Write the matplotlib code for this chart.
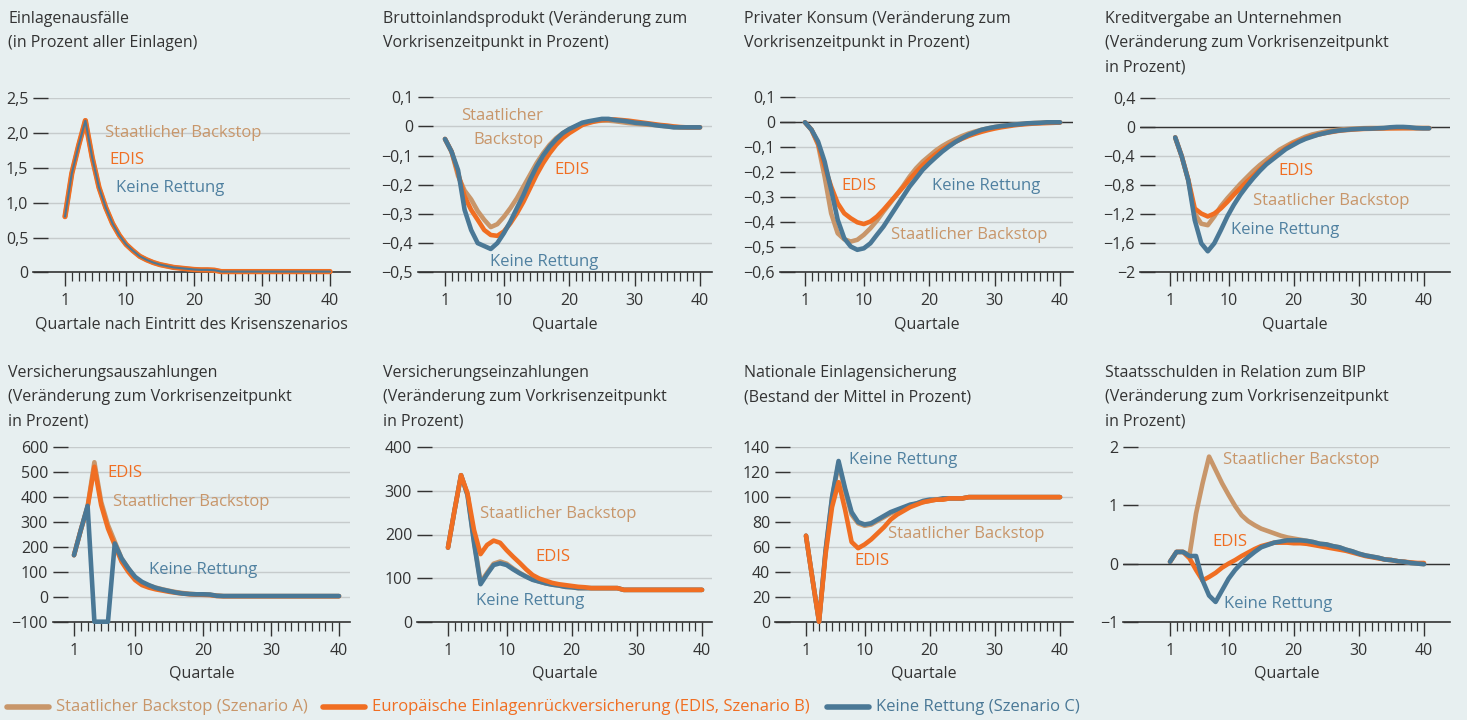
import numpy as np
import matplotlib.pyplot as plt
from matplotlib.lines import Line2D

W, H = 1467, 720
BG = '#e7eff0'
TAN = '#c8966a'
ORANGE = '#f06e22'
BLUE = '#4a7896'
BLUE_TXT = '#4f80a0'
DARK = '#333333'
GRID = '#c6cbcc'

plt.rcParams['font.family'] = ['Open Sans', 'DejaVu Sans']

quarters = np.arange(1, 41)

# --- data ---
# 1 Einlagenausfaelle: all three scenarios coincide
ausfall = [0.80, 1.42, 1.82, 2.18, 1.65, 1.22, 0.93, 0.70, 0.53, 0.40,
           0.31, 0.23, 0.18, 0.14, 0.11, 0.09, 0.07, 0.06, 0.05, 0.04,
           0.035, 0.035, 0.03, 0.01, 0.01, 0.01, 0.01, 0.01, 0.01, 0.01,
           0.01, 0.01, 0.01, 0.01, 0.01, 0.01, 0.01, 0.01, 0.01, 0.01]

# 2 BIP
bip_a = [-0.043, -0.086, -0.17, -0.22, -0.25, -0.29, -0.32, -0.345, -0.335, -0.31,
         -0.28, -0.246, -0.206, -0.166, -0.126, -0.092, -0.063, -0.04, -0.023, -0.01,
         0.0, 0.01, 0.015, 0.018, 0.02, 0.02, 0.018, 0.015, 0.012, 0.01,
         0.008, 0.006, 0.005, 0.003, 0.0, -0.002, -0.003, -0.003, -0.003, -0.003]
bip_b = [-0.043, -0.086, -0.16, -0.24, -0.286, -0.32, -0.355, -0.372, -0.375, -0.36,
         -0.332, -0.298, -0.258, -0.212, -0.166, -0.126, -0.092, -0.063, -0.04, -0.023,
         -0.009, 0.005, 0.012, 0.018, 0.022, 0.024, 0.024, 0.022, 0.02, 0.017,
         0.014, 0.011, 0.008, 0.005, 0.003, 0.0, -0.002, -0.003, -0.003, -0.003]
bip_c = [-0.043, -0.086, -0.15, -0.286, -0.355, -0.40, -0.41, -0.42, -0.40, -0.366,
         -0.326, -0.28, -0.235, -0.183, -0.138, -0.10, -0.069, -0.044, -0.023, -0.009,
         0.002, 0.013, 0.018, 0.022, 0.026, 0.026, 0.022, 0.02, 0.017, 0.013,
         0.011, 0.009, 0.005, 0.002, 0.0, -0.003, -0.003, -0.003, -0.003, -0.003]

# 3 Privater Konsum
konsum_a = [0.0, -0.03, -0.09, -0.217, -0.364, -0.444, -0.468, -0.477, -0.47, -0.45,
            -0.424, -0.393, -0.357, -0.324, -0.29, -0.255, -0.217, -0.184, -0.157, -0.135,
            -0.113, -0.095, -0.08, -0.067, -0.055, -0.045, -0.037, -0.03, -0.024, -0.019,
            -0.015, -0.012, -0.009, -0.007, -0.005, -0.003, -0.002, -0.001, 0.0, 0.0]
konsum_b = [0.0, -0.03, -0.085, -0.177, -0.257, -0.324, -0.364, -0.384, -0.40, -0.407,
            -0.397, -0.377, -0.35, -0.32, -0.29, -0.26, -0.228, -0.199, -0.172, -0.148,
            -0.127, -0.108, -0.092, -0.078, -0.066, -0.055, -0.046, -0.038, -0.031, -0.025,
            -0.02, -0.016, -0.012, -0.009, -0.007, -0.005, -0.004, -0.003, -0.002, -0.001]
konsum_c = [0.0, -0.03, -0.077, -0.157, -0.27, -0.39, -0.464, -0.497, -0.51, -0.504,
            -0.484, -0.45, -0.417, -0.377, -0.337, -0.297, -0.257, -0.224, -0.19, -0.164,
            -0.14, -0.117, -0.097, -0.079, -0.064, -0.05, -0.04, -0.03, -0.024, -0.019,
            -0.015, -0.012, -0.009, -0.007, -0.004, -0.003, -0.002, 0.0, 0.0, 0.0]

# 4 Kreditvergabe
kredit_a = [-0.14, -0.40, -0.73, -1.19, -1.33, -1.35, -1.23, -1.09, -0.98, -0.88,
            -0.78, -0.69, -0.60, -0.52, -0.45, -0.38, -0.31, -0.26, -0.21, -0.17,
            -0.13, -0.10, -0.08, -0.06, -0.045, -0.035, -0.027, -0.02, -0.015, -0.012,
            -0.01, -0.01, -0.01, -0.01, -0.01, -0.01, -0.01, -0.01, -0.01, -0.01]
kredit_b = [-0.14, -0.40, -0.72, -1.12, -1.19, -1.23, -1.19, -1.12, -1.03, -0.93,
            -0.84, -0.75, -0.67, -0.58, -0.50, -0.42, -0.35, -0.29, -0.23, -0.19,
            -0.15, -0.12, -0.10, -0.08, -0.065, -0.05, -0.04, -0.033, -0.027, -0.022,
            -0.02, -0.018, -0.016, -0.014, -0.013, -0.012, -0.012, -0.012, -0.012, -0.012]
kredit_c = [-0.14, -0.40, -0.73, -1.28, -1.60, -1.71, -1.60, -1.42, -1.23, -1.07,
            -0.93, -0.81, -0.70, -0.60, -0.51, -0.44, -0.37, -0.30, -0.25, -0.20,
            -0.16, -0.13, -0.10, -0.08, -0.06, -0.046, -0.037, -0.028, -0.023, -0.018,
            -0.018, -0.014, -0.01, 0.0, 0.005, 0.005, 0.0, -0.01, -0.014, -0.014]

# 5 Versicherungsauszahlungen
auszahl_a = [167, 268, 362, 540, 381, 288, 221, 154, 114, 75,
             55, 45, 37, 30, 24, 19, 15, 12, 10, 9,
             8, 5, 3, 3, 3, 3, 3, 3, 3, 3,
             3, 3, 3, 3, 3, 3, 3, 3, 3, 3]
auszahl_b = [167, 268, 360, 522, 368, 274, 207, 141, 100, 67,
             47, 37, 30, 25, 20, 16, 13, 10, 9, 8,
             7, 3, 2, 2, 2, 2, 2, 2, 2, 2,
             2, 2, 2, 2, 2, 2, 2, 2, 2, 2]
auszahl_c = [167, 268, 365, -100, -100, -100, 214, 154, 114, 80,
             60, 47, 36, 29, 23, 17, 13, 11, 10, 10,
             9, 4, 3, 3, 3, 3, 3, 3, 3, 3,
             3, 3, 3, 3, 3, 3, 3, 3, 3, 3]

# 6 Versicherungseinzahlungen
einzahl_a = [170, 255, 336, 292, 185, 90, 112, 133, 138, 133,
             122, 112, 104, 97, 92, 88, 85, 83, 80, 79,
             77, 77, 77, 77, 77, 77, 77, 73, 73, 73,
             73, 73, 73, 73, 73, 73, 73, 73, 73, 73]
einzahl_b = [170, 255, 336, 294, 210, 155, 176, 186, 181, 164,
             149, 135, 120, 107, 99, 94, 89, 86, 84, 82,
             80, 79, 77, 77, 77, 77, 77, 73, 73, 73,
             73, 73, 73, 73, 73, 73, 73, 73, 73, 73]
einzahl_c = [170, 255, 336, 290, 180, 86, 109, 130, 134, 130,
             120, 111, 103, 96, 92, 88, 85, 83, 80, 79,
             77, 77, 77, 77, 77, 77, 77, 73, 73, 73,
             73, 73, 73, 73, 73, 73, 73, 73, 73, 73]

# 7 Nationale Einlagensicherung
sicherung_a = [69, 34, 0, 56, 99, 127, 105, 86, 79, 77,
               78, 81, 84, 87, 89, 91, 93, 95, 96, 97,
               98, 98, 99, 99, 99, 100, 100, 100, 100, 100,
               100, 100, 100, 100, 100, 100, 100, 100, 100, 100]
sicherung_b = [69, 34, 0, 54, 92, 112, 90, 64, 59, 62,
               66, 71, 76, 82, 86, 89, 92, 94, 96, 97,
               98, 98, 99, 99, 99, 100, 100, 100, 100, 100,
               100, 100, 100, 100, 100, 100, 100, 100, 100, 100]
sicherung_c = [69, 34, 0, 57, 100, 129, 107, 88, 80, 78,
               79, 82, 85, 88, 90, 92, 94, 95, 97, 98,
               98, 99, 99, 99, 99, 100, 100, 100, 100, 100,
               100, 100, 100, 100, 100, 100, 100, 100, 100, 100]

# 8 Staatsschulden
schulden_a = [0.03, 0.2, 0.2, 0.15, 0.86, 1.38, 1.84, 1.61, 1.38, 1.18,
              0.99, 0.83, 0.73, 0.66, 0.60, 0.56, 0.52, 0.48, 0.45, 0.43,
              0.41, 0.39, 0.37, 0.34, 0.33, 0.30, 0.28, 0.24, 0.21, 0.17,
              0.14, 0.12, 0.10, 0.07, 0.06, 0.04, 0.03, 0.01, 0.0, -0.01]
schulden_b = [0.03, 0.2, 0.2, 0.09, -0.11, -0.29, -0.23, -0.16, -0.07, 0.0,
              0.06, 0.13, 0.19, 0.25, 0.30, 0.33, 0.36, 0.36, 0.36, 0.35,
              0.35, 0.34, 0.32, 0.30, 0.28, 0.26, 0.24, 0.22, 0.19, 0.16,
              0.13, 0.11, 0.09, 0.07, 0.06, 0.04, 0.03, 0.02, 0.01, 0.01]
schulden_c = [0.03, 0.2, 0.2, 0.13, 0.13, -0.29, -0.55, -0.66, -0.46, -0.26,
              -0.11, 0.01, 0.11, 0.2, 0.28, 0.32, 0.36, 0.38, 0.40, 0.40,
              0.40, 0.39, 0.37, 0.34, 0.33, 0.30, 0.28, 0.24, 0.21, 0.17,
              0.14, 0.12, 0.10, 0.07, 0.06, 0.04, 0.03, 0.01, 0.0, -0.01]

titles = [
    "Einlagenausfälle\n(in Prozent aller Einlagen)",
    "Bruttoinlandsprodukt (Veränderung zum\nVorkrisenzeitpunkt in Prozent)",
    "Privater Konsum (Veränderung zum\nVorkrisenzeitpunkt in Prozent)",
    "Kreditvergabe an Unternehmen\n(Veränderung zum Vorkrisenzeitpunkt\nin Prozent)",
    "Versicherungsauszahlungen\n(Veränderung zum Vorkrisenzeitpunkt\nin Prozent)",
    "Versicherungseinzahlungen\n(Veränderung zum Vorkrisenzeitpunkt\nin Prozent)",
    "Nationale Einlagensicherung\n(Bestand der Mittel in Prozent)",
    "Staatsschulden in Relation zum BIP\n(Veränderung zum Vorkrisenzeitpunkt\nin Prozent)",
]
xlabels = ["Quartale nach Eintritt des Krisenszenarios"] + ["Quartale"] * 7

yticks = [
    [0, 0.5, 1.0, 1.5, 2.0, 2.5],
    [-0.5, -0.4, -0.3, -0.2, -0.1, 0, 0.1],
    [-0.6, -0.5, -0.4, -0.3, -0.2, -0.1, 0, 0.1],
    [-2, -1.6, -1.2, -0.8, -0.4, 0, 0.4],
    [-100, 0, 100, 200, 300, 400, 500, 600],
    [0, 100, 200, 300, 400],
    [0, 20, 40, 60, 80, 100, 120, 140],
    [-1, 0, 1, 2],
]
ytick_labels = [
    ["0", "0,5", "1,0", "1,5", "2,0", "2,5"],
    ["−0,5", "−0,4", "−0,3", "−0,2", "−0,1", "0", "0,1"],
    ["−0,6", "−0,5", "−0,4", "−0,3", "−0,2", "−0,1", "0", "0,1"],
    ["−2", "−1,6", "−1,2", "−0,8", "−0,4", "0", "0,4"],
    ["−100", "0", "100", "200", "300", "400", "500", "600"],
    ["0", "100", "200", "300", "400"],
    ["0", "20", "40", "60", "80", "100", "120", "140"],
    ["−1", "0", "1", "2"],
]

series = [
    (ausfall, ausfall, ausfall),
    (bip_a, bip_b, bip_c),
    (konsum_a, konsum_b, konsum_c),
    (kredit_a, kredit_b, kredit_c),
    (auszahl_a, auszahl_b, auszahl_c),
    (einzahl_a, einzahl_b, einzahl_c),
    (sicherung_a, sicherung_b, sicherung_c),
    (schulden_a, schulden_b, schulden_c),
]

# --- layout in pixels: left, right, x of quarter 1, x of quarter 40, top tick, bottom axis ---
geom = [
    (33, 350, 65, 330, 98.3, 272.3),
    (418, 712, 445, 700, 97.3, 272.3),
    (780, 1073, 805, 1060, 97.3, 272.3),
    (1140, 1450, 1170, 1424, 98.3, 272.3),
    (53, 350, 74, 339, 447.3, 621.7),
    (417, 712, 448, 702, 447.3, 621.7),
    (775, 1073, 806, 1060, 447.3, 621.7),
    (1123, 1450, 1170, 1424, 447.3, 621.7),
]
title_pos = [(8, 11), (383, 11), (744, 11), (1105, 11),
             (8, 365), (383, 365), (744, 365), (1105, 365)]
dark_zero = [False, False, True, True, False, False, False, True]
x_shift = [0, 0, 0, 0.8, 0, 0, 0, 0]
blue_on_top = [True, True, True, True, True, False, False, True]

# in-panel labels: (text, colour, x, y, ha)
panel_labels = [
    [("Staatlicher Backstop", TAN, 6.9, 2.0, 'left'),
     ("EDIS", ORANGE, 7.6, 1.61, 'left'),
     ("Keine Rettung", BLUE_TXT, 8.5, 1.21, 'left')],
    [("Staatlicher\nBackstop", TAN, 16.0, -0.005, 'right'),
     ("EDIS", ORANGE, 17.8, -0.149, 'left'),
     ("Keine Rettung", BLUE_TXT, 7.9, -0.465, 'left')],
    [("EDIS", ORANGE, 6.5, -0.255, 'left'),
     ("Keine Rettung", BLUE_TXT, 20.4, -0.255, 'left'),
     ("Staatlicher Backstop", TAN, 14.15, -0.451, 'left')],
    [("EDIS", ORANGE, 17.6, -0.60, 'left'),
     ("Staatlicher Backstop", TAN, 13.75, -1.02, 'left'),
     ("Keine Rettung", BLUE_TXT, 10.4, -1.42, 'left')],
    [("EDIS", ORANGE, 5.86, 497, 'left'),
     ("Staatlicher Backstop", TAN, 6.7, 380, 'left'),
     ("Keine Rettung", BLUE_TXT, 12.0, 108, 'left')],
    [("Staatlicher Backstop", TAN, 5.9, 247, 'left'),
     ("EDIS", ORANGE, 14.4, 148, 'left'),
     ("Keine Rettung", BLUE_TXT, 5.3, 47, 'left')],
    [("Keine Rettung", BLUE_TXT, 7.6, 130, 'left'),
     ("Staatlicher Backstop", TAN, 13.6, 70.5, 'left'),
     ("EDIS", ORANGE, 8.4, 48.7, 'left')],
    [("Staatlicher Backstop", TAN, 9.1, 1.78, 'left'),
     ("EDIS", ORANGE, 7.45, 0.37, 'left'),
     ("Keine Rettung", BLUE_TXT, 9.3, -0.69, 'left')],
]

legend_items = [
    ("Staatlicher Backstop (Szenario A)", TAN, 7),
    ("Europäische Einlagenrückversicherung (EDIS, Szenario B)", ORANGE, 323),
    ("Keine Rettung (Szenario C)", BLUE, 827),
]

fig = plt.figure(figsize=(W / 100, H / 100), dpi=100, facecolor=BG)

for i in range(8):
    left, right, x1, x40, top, bottom = geom[i]
    ax = fig.add_axes([left / W, 1 - bottom / H, (right - left) / W, (bottom - top) / H])
    ax.set_facecolor(BG)
    ppu = (x40 - x1) / 39
    ax.set_xlim(1 - (x1 - left) / ppu, 40 + (right - x40) / ppu)
    ax.set_ylim(yticks[i][0], yticks[i][-1])

    for s in ['top', 'right', 'left']:
        ax.spines[s].set_visible(False)
    ax.spines['bottom'].set_color(DARK)
    ax.spines['bottom'].set_linewidth(1.2)

    ax.set_yticks(yticks[i])
    ax.set_yticklabels(ytick_labels[i])
    ax.tick_params(axis='y', direction='in', length=11, width=1.0, color=DARK,
                   labelsize=11.5, labelcolor=DARK, pad=3.5)
    ax.set_xticks([1, 10, 20, 30, 40])
    ax.set_xticks([q for q in quarters if q not in (1, 10, 20, 30, 40)], minor=True)
    ax.tick_params(axis='x', which='major', direction='out', length=10, width=1.0,
                   color=DARK, labelsize=11.5, labelcolor=DARK, pad=5)
    ax.tick_params(axis='x', which='minor', direction='out', length=6.5, width=0.9,
                   color=DARK)
    ax.grid(axis='y', color=GRID, lw=1.0)
    ax.set_axisbelow(True)
    if dark_zero[i]:
        ax.axhline(0, color=DARK, lw=1.0, zorder=1.5)

    ax.set_xlabel(xlabels[i], fontsize=11.5, color=DARK, labelpad=5)

    a, b, c = series[i]
    x = quarters + x_shift[i]
    kw = dict(solid_capstyle='round', solid_joinstyle='round', clip_on=False)
    ax.plot(x, a, color=TAN, lw=3.3, zorder=3, **kw)
    if i == 0:
        ax.plot(x, b, color=ORANGE, lw=3.8, zorder=4, **kw)
        ax.plot(x, c, color=BLUE, lw=1.5, zorder=5, **kw)
    elif blue_on_top[i]:
        ax.plot(x, b, color=ORANGE, lw=3.3, zorder=4, **kw)
        ax.plot(x, c, color=BLUE, lw=3.3, zorder=5, **kw)
    else:
        ax.plot(x, c, color=BLUE, lw=3.3, zorder=4, **kw)
        ax.plot(x, b, color=ORANGE, lw=3.3, zorder=5, **kw)

    for txt, col, tx, ty, ha in panel_labels[i]:
        ax.text(tx, ty, txt, color=col, fontsize=12, ha=ha, va='center',
                multialignment=ha, linespacing=1.6, zorder=6)

    tx, ty = title_pos[i]
    fig.text(tx / W, 1 - ty / H, titles[i], fontsize=11.5, color=DARK,
             ha='left', va='top', linespacing=1.7)

# legend along the bottom
ly = 707
for label, col, lx in legend_items:
    fig.add_artist(Line2D([lx / W, (lx + 42) / W], [1 - ly / H, 1 - ly / H],
                          color=col, lw=4, solid_capstyle='round',
                          transform=fig.transFigure))
    fig.text((lx + 49) / W, 1 - ly / H, label, color=col, fontsize=12,
             ha='left', va='center')

fig.savefig("out.png", dpi=100, facecolor=BG)
